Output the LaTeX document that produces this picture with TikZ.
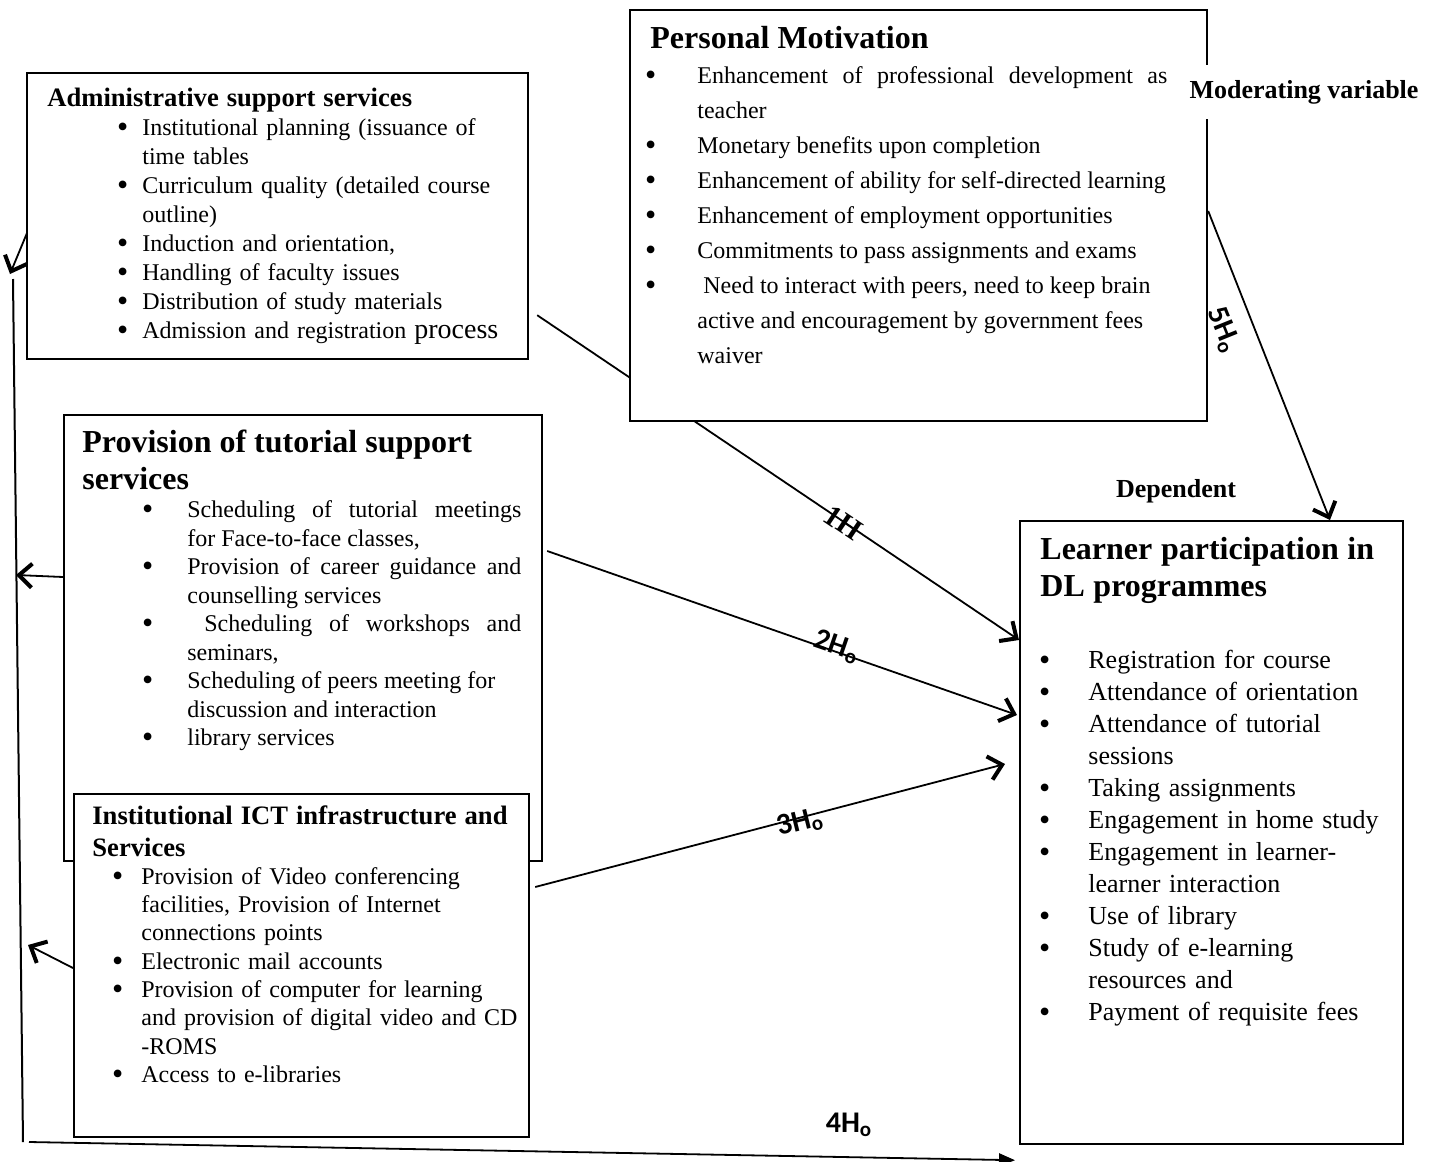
\documentclass[tikz,border=0pt]{standalone}
\usepackage{fontspec}
\setmainfont{Liberation Serif}
\newfontfamily\hypfont{Carlito}
\usepackage{enumitem}
\newcommand{\bigdot}{\raisebox{-1.2pt}{\fontsize{16}{16}\selectfont\textbullet}}
\setlist[itemize]{label=\bigdot,topsep=0pt,partopsep=0pt,itemsep=0pt,parsep=0pt}
\setlength{\parskip}{0pt}
\usepackage{tikz}
\usetikzlibrary{arrows.meta,backgrounds}
\tikzset{frame/.style={draw,line width=1.1pt,fill=white,inner sep=0pt,anchor=north west},
	 body/.style={inner sep=0pt,anchor=base west,font=\fontsize{12}{14.5}\selectfont},
	 hyp/.style={line width=0.9pt,-{Straight Barb[length=6.5pt,width=12pt,line width=2pt]}},
	 hlabel/.style={inner sep=0pt,font=\hypfont\bfseries\fontsize{15}{15}\selectfont},
	 vlabel/.style={inner sep=0pt,fill=white,font=\bfseries\fontsize{13}{13}\selectfont}
	 }
\newcommand{\boxhead}[3]{{\fontsize{#1}{#2}\selectfont\bfseries #3\par}}
\newcommand{\hyplab}[1]{#1H\textsubscript{o}}

\begin{document}
\begin{tikzpicture}[x=0.5pt,y=-0.5pt] % independent, moderating and dependent variables
	\useasboundingbox (0,0) rectangle (1431,1162);
	\node[frame,minimum width=250.5pt,minimum height=143pt] (admin) at (26,72) {};
	\node[body,text width=236.5pt,align=left] (admin text) at ([shift={(21,34)}]admin.north west)
	{\boxhead{13.3}{16}{Administrative support services}
	 \begin{itemize}[leftmargin=47.5pt,labelsep=7pt]
	 \item Institutional planning (issuance of\\ time tables
	 \item Curriculum quality (detailed course\\ outline)
	 \item Induction and orientation,
	 \item Handling of faculty issues
	 \item Distribution of study materials
	 \item Admission and registration {\fontsize{14}{14.5}\selectfont process}
	 \end{itemize}};
	\node[frame,minimum width=288.5pt,minimum height=205.5pt] (motiv) at (629,9) {};
	\node[body,text width=258.5pt,align=justify,font=\fontsize{12}{17.5}\selectfont] (motiv text) at ([shift={(21,39)}]motiv.north west)
	{\boxhead{16}{18.5}{Personal Motivation}
	 \begin{itemize}[leftmargin=23.5pt,labelsep=20.5pt]
	 \item Enhancement of professional development as\linebreak teacher
	 \item Monetary benefits upon completion
	 \item Enhancement of ability for self-directed learning
	 \item Enhancement of employment opportunities
	 \item Commitments to pass assignments and exams
	 \item \hspace*{3pt}Need to interact with peers, need to keep brain\\ active and encouragement by government fees\\ waiver
	 \end{itemize}};
	\node[frame,minimum width=239pt,minimum height=223pt] (tutor) at (63,414) {};
	\node[body,text width=219.5pt,align=justify,font=\fontsize{12}{14.25}\selectfont] (tutor text) at ([shift={(19,38)}]tutor.north west)
	{\boxhead{16}{18.5}{Provision of tutorial support\\services}
	 \begin{itemize}[leftmargin=52.5pt,labelsep=17pt]
	 \item Scheduling of tutorial meetings\linebreak for Face-to-face classes,
	 \item Provision of career guidance and\linebreak counselling services
	 \item \hspace*{8.5pt}Scheduling of workshops and\linebreak seminars,
	 \item Scheduling of peers meeting for\\ discussion and interaction
	 \item library services
	 \end{itemize}};
	\node[frame,minimum width=227.5pt,minimum height=171.5pt] (ict) at (73,793) {};
	\node[body,text width=214pt,align=left,font=\fontsize{12}{14.15}\selectfont] (ict text) at ([shift={(19,31)}]ict.north west)
	{\boxhead{13.3}{16}{Institutional ICT infrastructure and\\Services}
	 \begin{itemize}[leftmargin=24.5pt,labelsep=9pt]
	 \item Provision of Video conferencing\\ facilities, Provision of Internet\\ connections points
	 \item Electronic mail accounts
	 \item Provision of computer for learning\\ and provision of digital video and CD\\ -ROMS
	 \item Access to e-libraries
	 \end{itemize}};
	\node[frame,minimum width=191.5pt,minimum height=311.5pt] (learn) at (1019,520) {};
	\node[body,text width=180pt,align=left,font=\fontsize{13}{16}\selectfont] (learn text) at ([shift={(21,39)}]learn.north west)
	{\boxhead{16}{18.5}{Learner participation in\\DL programmes}
	 \begin{itemize}[leftmargin=24pt,labelsep=19pt,topsep=20pt]
	 \item Registration for course
	 \item Attendance of orientation
	 \item Attendance of tutorial\\ sessions
	 \item Taking assignments
	 \item Engagement in home study
	 \item Engagement in learner-\\learner interaction
	 \item Use of library
	 \item Study of e-learning\\ resources and
	 \item Payment of requisite fees
	 \end{itemize}};
	\node[vlabel,minimum height=27pt] (moder) at (1304,92) {Moderating variable};
	\node[vlabel] (dep) at (1176,491) {Dependent};
	\node[hlabel,rotate=-34,font=\bfseries\fontsize{15}{15}\selectfont] (h1) at (843,523) {1H};
	\node[hlabel,rotate=-19] (h2) at (837,647) {\hyplab{2}};
	\node[hlabel,rotate=14] (h3) at (800,823) {\hyplab{3}};
	\node[hlabel] (h4) at (849,1125) {\hyplab{4}};
	\node[hlabel,rotate=-68] (h5) at (1223,330) {\hyplab{5}};
	\coordinate (fb top) at (10,274);
	\coordinate (fb tut) at (16,575);
	\coordinate (fb ict) at (28,945);
	\coordinate (fb bot) at (23,1142);
	\begin{scope}[on background layer]
	\draw[hyp] ([shift={(8,-45)}]admin.south east) -- ([shift={(0,120)}]learn.north west);
	\draw[hyp] ([shift={(4,137)}]tutor.north east) -- ([shift={(-2,195)}]learn.north west);
	\draw[hyp] ([shift={(5,94)}]ict.north east) -- ([shift={(-14,244)}]learn.north west);
	\draw[hyp] ([shift={(0,202)}]motiv.north east) -- ([shift={(311,0)}]learn.north west);
	\draw[hyp] ([shift={(1,161)}]admin.north west) -- (fb top);
	\draw[hyp] ([shift={(0,163)}]tutor.north west) -- (fb tut);
	\draw[hyp] ([shift={(0,175)}]ict.north west) -- (fb ict);
	\draw[line width=1pt] ([shift={(3,5)}]fb top) -- (fb bot);
	\draw[line width=0.9pt,-{Triangle[length=8pt,width=6.5pt]}] ([xshift=3pt]fb bot) -- ([shift={(-4,15)}]learn.south west);
	\end{scope}
\end{tikzpicture}
\end{document}
